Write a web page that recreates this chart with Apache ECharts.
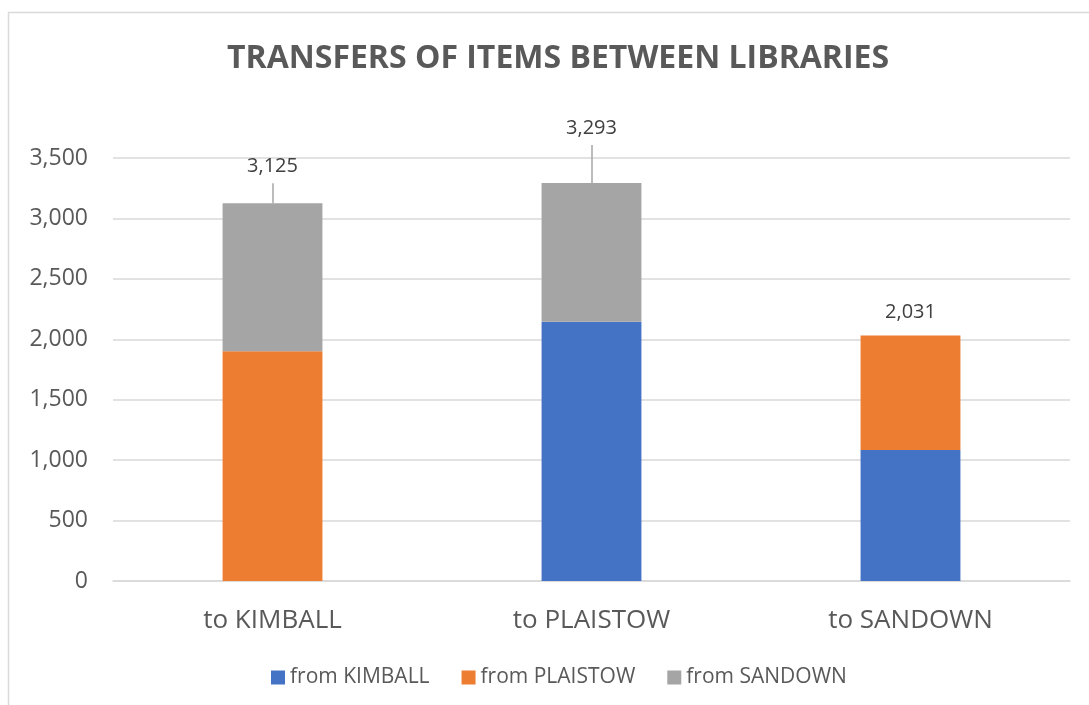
<!DOCTYPE html>
<html>
<head>
<meta charset="utf-8">
<script src="https://cdn.jsdelivr.net/npm/echarts@6/dist/echarts.min.js"></script>
<style>html,body{margin:0;padding:0;background:#fff}#c{width:1089px;height:705px}</style>
</head>
<body>
<div id="c"></div>
<script>
const categories = ['to KIMBALL', 'to PLAISTOW', 'to SANDOWN'];
const fromKimball = [0, 2145, 1084];
const fromPlaistow = [1902, 0, 947];
const fromSandown = [1223, 1148, 0];
const totals = [3125, 3293, 2031];
const yTicks = [0, 500, 1000, 1500, 2000, 2500, 3000, 3500];

// label placement (pixels above bar top), style only
const labelRaise = [37, 55, 23];

const chart = echarts.init(document.getElementById('c'));
const fontFam = '"Open Sans", "Noto Sans", sans-serif';
const fmt = v => v.toLocaleString('en-US');

chart.setOption({
  animation: false,
  textStyle: { fontFamily: fontFam },
  graphic: [{
    type: 'rect', shape: { x: 8.5, y: 12.5, width: 1100, height: 720 },
    style: { fill: 'none', stroke: '#d9d9d9', lineWidth: 1.5 }, silent: true, z: -1
  }],
  title: {
    text: 'TRANSFERS OF ITEMS BETWEEN LIBRARIES',
    left: 222, top: 38,
    textStyle: { fontFamily: fontFam, fontWeight: 'bold', fontSize: 32, color: '#595959' }
  },
  legend: {
    bottom: 12, left: 266, itemGap: 32, itemWidth: 14, itemHeight: 14,
    icon: 'rect',
    textStyle: { fontSize: 21, color: '#595959', fontFamily: fontFam },
    data: ['from KIMBALL', 'from PLAISTOW', 'from SANDOWN']
  },
  grid: { left: 113, right: 19, top: 158, bottom: 124 },
  xAxis: {
    type: 'category', data: categories,
    axisLine: { lineStyle: { color: '#d9d9d9', width: 1.5 } },
    axisTick: { show: false },
    axisLabel: { fontSize: 26, color: '#595959', margin: 27, fontFamily: fontFam }
  },
  yAxis: {
    type: 'value', min: yTicks[0], max: yTicks[yTicks.length - 1], interval: 500,
    axisLine: { show: false }, axisTick: { show: false },
    splitLine: { lineStyle: { color: '#d9d9d9', width: 1.5 } },
    axisLabel: { fontSize: 23, color: '#595959', margin: 25, formatter: v => fmt(v), fontFamily: fontFam }
  },
  series: [
    { name: 'from KIMBALL', type: 'bar', stack: 't', data: fromKimball, barWidth: '31.3%', itemStyle: { color: '#4472c4' } },
    { name: 'from PLAISTOW', type: 'bar', stack: 't', data: fromPlaistow, itemStyle: { color: '#ed7d31' } },
    { name: 'from SANDOWN', type: 'bar', stack: 't', data: fromSandown, itemStyle: { color: '#a5a5a5' } },
    {
      name: 'totals', type: 'custom', data: totals.map((v, i) => [i, v]),
      z: 10, silent: true,
      renderItem: function (params, api) {
        const i = api.value(0);
        const p = api.coord([i, api.value(1)]);
        const raise = labelRaise[i];
        const children = [{
          type: 'text',
          style: {
            x: p[0], y: p[1] - raise, text: fmt(api.value(1)),
            align: 'center', verticalAlign: 'middle',
            font: '20px ' + fontFam, fill: '#404040'
          }
        }];
        if (raise > 30) {
          children.push({
            type: 'line',
            shape: { x1: p[0] + 0.5, y1: p[1], x2: p[0] + 0.5, y2: p[1] - raise + 17 },
            style: { stroke: '#a6a6a6', lineWidth: 1.5 }
          });
        }
        return { type: 'group', children: children };
      }
    }
  ]
});
</script>
</body>
</html>
